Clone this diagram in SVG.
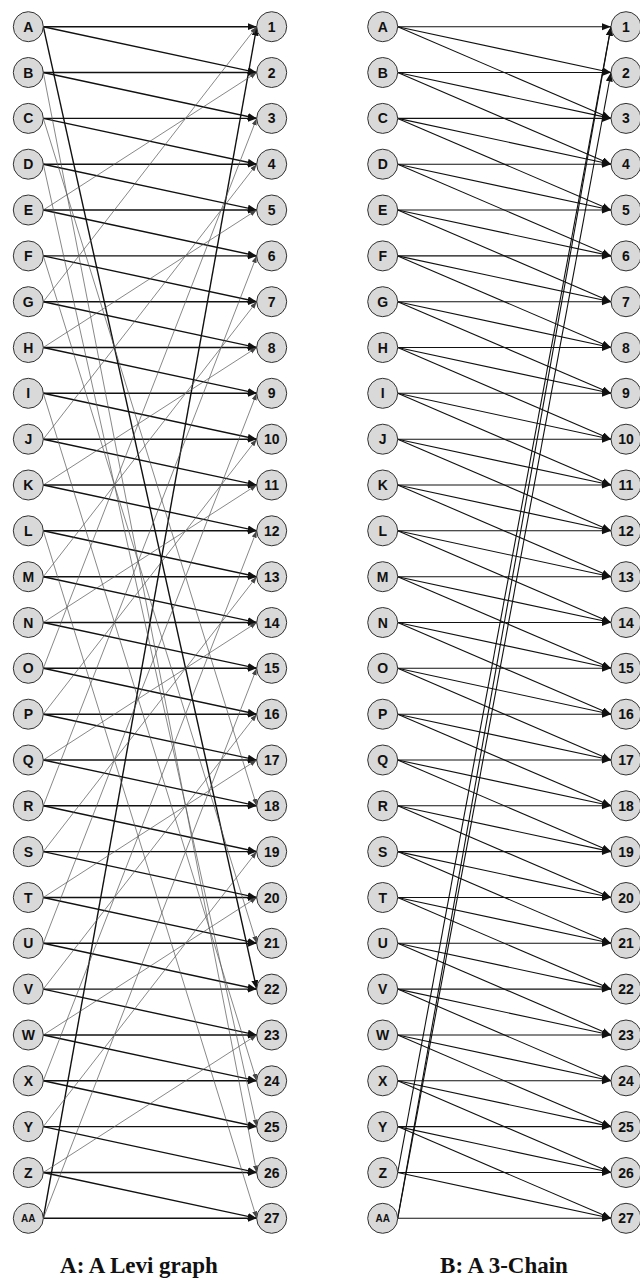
<svg xmlns="http://www.w3.org/2000/svg" width="640" height="1280" viewBox="0 0 640 1280">
<style>
.node circle{fill:#d9d9d9;stroke:#333;stroke-width:1}
.node text{font-family:"Liberation Sans",Arial,sans-serif;font-weight:bold;font-size:14px;text-anchor:middle;fill:#111}
.node text.sm{font-size:10px}
.thick{stroke:#111;stroke-width:1.4;marker-end:url(#ah)}
.thin{stroke:#555;stroke-width:0.7;marker-end:url(#aht)}
.bl{stroke:#111;stroke-width:1.1;marker-end:url(#ah)}
.cap{font-family:"Liberation Serif","Times New Roman",serif;font-weight:bold;font-size:23px;text-anchor:middle;fill:#111}
</style>
<defs>
<marker id="ah" markerWidth="10" markerHeight="8" refX="9" refY="3.5" orient="auto" markerUnits="userSpaceOnUse"><path d="M0,0 L9,3.5 L0,7 z" fill="#111"/></marker>
<marker id="aht" markerWidth="8" markerHeight="6" refX="7" refY="2.5" orient="auto" markerUnits="userSpaceOnUse"><path d="M0,0 L7,2.5 L0,5 z" fill="#444"/></marker>
</defs>
<rect width="640" height="1280" fill="#fff"/>
<g id="edges-a">
<line class="thick" x1="43.3" y1="26.7" x2="256.7" y2="26.7"/><line class="thick" x1="43.3" y1="26.7" x2="256.7" y2="72.5"/>
<line class="thick" x1="43.3" y1="72.5" x2="256.7" y2="72.5"/><line class="thick" x1="43.3" y1="72.5" x2="256.7" y2="118.4"/>
<line class="thick" x1="43.3" y1="118.4" x2="256.7" y2="118.4"/><line class="thick" x1="43.3" y1="118.4" x2="256.7" y2="164.2"/>
<line class="thick" x1="43.3" y1="164.2" x2="256.7" y2="164.2"/><line class="thick" x1="43.3" y1="164.2" x2="256.7" y2="210"/>
<line class="thick" x1="43.3" y1="210" x2="256.7" y2="210"/><line class="thick" x1="43.3" y1="210" x2="256.7" y2="255.9"/>
<line class="thick" x1="43.3" y1="255.9" x2="256.7" y2="255.9"/><line class="thick" x1="43.3" y1="255.9" x2="256.7" y2="301.7"/>
<line class="thick" x1="43.3" y1="301.7" x2="256.7" y2="301.7"/><line class="thick" x1="43.3" y1="301.7" x2="256.7" y2="347.5"/>
<line class="thick" x1="43.3" y1="347.5" x2="256.7" y2="347.5"/><line class="thick" x1="43.3" y1="347.5" x2="256.7" y2="393.3"/>
<line class="thick" x1="43.3" y1="393.3" x2="256.7" y2="393.3"/><line class="thick" x1="43.3" y1="393.3" x2="256.7" y2="439.2"/>
<line class="thick" x1="43.3" y1="439.2" x2="256.7" y2="439.2"/><line class="thick" x1="43.3" y1="439.2" x2="256.7" y2="485"/>
<line class="thick" x1="43.3" y1="485" x2="256.7" y2="485"/><line class="thick" x1="43.3" y1="485" x2="256.7" y2="530.8"/>
<line class="thick" x1="43.3" y1="530.8" x2="256.7" y2="530.8"/><line class="thick" x1="43.3" y1="530.8" x2="256.7" y2="576.7"/>
<line class="thick" x1="43.3" y1="576.7" x2="256.7" y2="576.7"/><line class="thick" x1="43.3" y1="576.7" x2="256.7" y2="622.5"/>
<line class="thick" x1="43.3" y1="622.5" x2="256.7" y2="622.5"/><line class="thick" x1="43.3" y1="622.5" x2="256.7" y2="668.3"/>
<line class="thick" x1="43.3" y1="668.3" x2="256.7" y2="668.3"/><line class="thick" x1="43.3" y1="668.3" x2="256.7" y2="714.2"/>
<line class="thick" x1="43.3" y1="714.2" x2="256.7" y2="714.2"/><line class="thick" x1="43.3" y1="714.2" x2="256.7" y2="760"/>
<line class="thick" x1="43.3" y1="760" x2="256.7" y2="760"/><line class="thick" x1="43.3" y1="760" x2="256.7" y2="805.8"/>
<line class="thick" x1="43.3" y1="805.8" x2="256.7" y2="805.8"/><line class="thick" x1="43.3" y1="805.8" x2="256.7" y2="851.6"/>
<line class="thick" x1="43.3" y1="851.6" x2="256.7" y2="851.6"/><line class="thick" x1="43.3" y1="851.6" x2="256.7" y2="897.5"/>
<line class="thick" x1="43.3" y1="897.5" x2="256.7" y2="897.5"/><line class="thick" x1="43.3" y1="897.5" x2="256.7" y2="943.3"/>
<line class="thick" x1="43.3" y1="943.3" x2="256.7" y2="943.3"/><line class="thick" x1="43.3" y1="943.3" x2="256.7" y2="989.1"/>
<line class="thick" x1="43.3" y1="989.1" x2="256.7" y2="989.1"/><line class="thick" x1="43.3" y1="989.1" x2="256.7" y2="1035"/>
<line class="thick" x1="43.3" y1="1035" x2="256.7" y2="1035"/><line class="thick" x1="43.3" y1="1035" x2="256.7" y2="1080.8"/>
<line class="thick" x1="43.3" y1="1080.8" x2="256.7" y2="1080.8"/><line class="thick" x1="43.3" y1="1080.8" x2="256.7" y2="1126.6"/>
<line class="thick" x1="43.3" y1="1126.6" x2="256.7" y2="1126.6"/><line class="thick" x1="43.3" y1="1126.6" x2="256.7" y2="1172.5"/>
<line class="thick" x1="43.3" y1="1172.5" x2="256.7" y2="1172.5"/><line class="thick" x1="43.3" y1="1172.5" x2="256.7" y2="1218.3"/>
<line class="thick" x1="43.3" y1="1218.3" x2="256.7" y2="1218.3"/><line class="thick" x1="43.3" y1="1218.3" x2="256.7" y2="26.7"/>
<line class="thick" x1="43.3" y1="26.7" x2="256.7" y2="989.1"/>
<line class="thin" x1="43.3" y1="72.5" x2="256.7" y2="1172.5"/>
<line class="thin" x1="43.3" y1="118.4" x2="256.7" y2="805.8"/>
<line class="thin" x1="43.3" y1="164.2" x2="256.7" y2="1126.6"/>
<line class="thin" x1="43.3" y1="210" x2="256.7" y2="72.5"/>
<line class="thin" x1="43.3" y1="255.9" x2="256.7" y2="943.3"/>
<line class="thin" x1="43.3" y1="301.7" x2="256.7" y2="26.7"/>
<line class="thin" x1="43.3" y1="347.5" x2="256.7" y2="210"/>
<line class="thin" x1="43.3" y1="393.3" x2="256.7" y2="1080.8"/>
<line class="thin" x1="43.3" y1="439.2" x2="256.7" y2="164.2"/>
<line class="thin" x1="43.3" y1="485" x2="256.7" y2="347.5"/>
<line class="thin" x1="43.3" y1="530.8" x2="256.7" y2="1218.3"/>
<line class="thin" x1="43.3" y1="576.7" x2="256.7" y2="301.7"/>
<line class="thin" x1="43.3" y1="622.5" x2="256.7" y2="485"/>
<line class="thin" x1="43.3" y1="668.3" x2="256.7" y2="118.4"/>
<line class="thin" x1="43.3" y1="714.2" x2="256.7" y2="439.2"/>
<line class="thin" x1="43.3" y1="760" x2="256.7" y2="622.5"/>
<line class="thin" x1="43.3" y1="805.8" x2="256.7" y2="255.9"/>
<line class="thin" x1="43.3" y1="851.6" x2="256.7" y2="576.7"/>
<line class="thin" x1="43.3" y1="897.5" x2="256.7" y2="760"/>
<line class="thin" x1="43.3" y1="943.3" x2="256.7" y2="393.3"/>
<line class="thin" x1="43.3" y1="989.1" x2="256.7" y2="714.2"/>
<line class="thin" x1="43.3" y1="1035" x2="256.7" y2="897.5"/>
<line class="thin" x1="43.3" y1="1080.8" x2="256.7" y2="530.8"/>
<line class="thin" x1="43.3" y1="1126.6" x2="256.7" y2="851.6"/>
<line class="thin" x1="43.3" y1="1172.5" x2="256.7" y2="1035"/>
<line class="thin" x1="43.3" y1="1218.3" x2="256.7" y2="668.3"/>
</g>
<g id="edges-b">
<line class="bl" x1="397.7" y1="26.7" x2="611" y2="26.7"/><line class="bl" x1="397.7" y1="26.7" x2="611" y2="72.5"/><line class="bl" x1="397.7" y1="26.7" x2="611" y2="118.4"/>
<line class="bl" x1="397.7" y1="72.5" x2="611" y2="72.5"/><line class="bl" x1="397.7" y1="72.5" x2="611" y2="118.4"/><line class="bl" x1="397.7" y1="72.5" x2="611" y2="164.2"/>
<line class="bl" x1="397.7" y1="118.4" x2="611" y2="118.4"/><line class="bl" x1="397.7" y1="118.4" x2="611" y2="164.2"/><line class="bl" x1="397.7" y1="118.4" x2="611" y2="210"/>
<line class="bl" x1="397.7" y1="164.2" x2="611" y2="164.2"/><line class="bl" x1="397.7" y1="164.2" x2="611" y2="210"/><line class="bl" x1="397.7" y1="164.2" x2="611" y2="255.9"/>
<line class="bl" x1="397.7" y1="210" x2="611" y2="210"/><line class="bl" x1="397.7" y1="210" x2="611" y2="255.9"/><line class="bl" x1="397.7" y1="210" x2="611" y2="301.7"/>
<line class="bl" x1="397.7" y1="255.9" x2="611" y2="255.9"/><line class="bl" x1="397.7" y1="255.9" x2="611" y2="301.7"/><line class="bl" x1="397.7" y1="255.9" x2="611" y2="347.5"/>
<line class="bl" x1="397.7" y1="301.7" x2="611" y2="301.7"/><line class="bl" x1="397.7" y1="301.7" x2="611" y2="347.5"/><line class="bl" x1="397.7" y1="301.7" x2="611" y2="393.3"/>
<line class="bl" x1="397.7" y1="347.5" x2="611" y2="347.5"/><line class="bl" x1="397.7" y1="347.5" x2="611" y2="393.3"/><line class="bl" x1="397.7" y1="347.5" x2="611" y2="439.2"/>
<line class="bl" x1="397.7" y1="393.3" x2="611" y2="393.3"/><line class="bl" x1="397.7" y1="393.3" x2="611" y2="439.2"/><line class="bl" x1="397.7" y1="393.3" x2="611" y2="485"/>
<line class="bl" x1="397.7" y1="439.2" x2="611" y2="439.2"/><line class="bl" x1="397.7" y1="439.2" x2="611" y2="485"/><line class="bl" x1="397.7" y1="439.2" x2="611" y2="530.8"/>
<line class="bl" x1="397.7" y1="485" x2="611" y2="485"/><line class="bl" x1="397.7" y1="485" x2="611" y2="530.8"/><line class="bl" x1="397.7" y1="485" x2="611" y2="576.7"/>
<line class="bl" x1="397.7" y1="530.8" x2="611" y2="530.8"/><line class="bl" x1="397.7" y1="530.8" x2="611" y2="576.7"/><line class="bl" x1="397.7" y1="530.8" x2="611" y2="622.5"/>
<line class="bl" x1="397.7" y1="576.7" x2="611" y2="576.7"/><line class="bl" x1="397.7" y1="576.7" x2="611" y2="622.5"/><line class="bl" x1="397.7" y1="576.7" x2="611" y2="668.3"/>
<line class="bl" x1="397.7" y1="622.5" x2="611" y2="622.5"/><line class="bl" x1="397.7" y1="622.5" x2="611" y2="668.3"/><line class="bl" x1="397.7" y1="622.5" x2="611" y2="714.2"/>
<line class="bl" x1="397.7" y1="668.3" x2="611" y2="668.3"/><line class="bl" x1="397.7" y1="668.3" x2="611" y2="714.2"/><line class="bl" x1="397.7" y1="668.3" x2="611" y2="760"/>
<line class="bl" x1="397.7" y1="714.2" x2="611" y2="714.2"/><line class="bl" x1="397.7" y1="714.2" x2="611" y2="760"/><line class="bl" x1="397.7" y1="714.2" x2="611" y2="805.8"/>
<line class="bl" x1="397.7" y1="760" x2="611" y2="760"/><line class="bl" x1="397.7" y1="760" x2="611" y2="805.8"/><line class="bl" x1="397.7" y1="760" x2="611" y2="851.6"/>
<line class="bl" x1="397.7" y1="805.8" x2="611" y2="805.8"/><line class="bl" x1="397.7" y1="805.8" x2="611" y2="851.6"/><line class="bl" x1="397.7" y1="805.8" x2="611" y2="897.5"/>
<line class="bl" x1="397.7" y1="851.6" x2="611" y2="851.6"/><line class="bl" x1="397.7" y1="851.6" x2="611" y2="897.5"/><line class="bl" x1="397.7" y1="851.6" x2="611" y2="943.3"/>
<line class="bl" x1="397.7" y1="897.5" x2="611" y2="897.5"/><line class="bl" x1="397.7" y1="897.5" x2="611" y2="943.3"/><line class="bl" x1="397.7" y1="897.5" x2="611" y2="989.1"/>
<line class="bl" x1="397.7" y1="943.3" x2="611" y2="943.3"/><line class="bl" x1="397.7" y1="943.3" x2="611" y2="989.1"/><line class="bl" x1="397.7" y1="943.3" x2="611" y2="1035"/>
<line class="bl" x1="397.7" y1="989.1" x2="611" y2="989.1"/><line class="bl" x1="397.7" y1="989.1" x2="611" y2="1035"/><line class="bl" x1="397.7" y1="989.1" x2="611" y2="1080.8"/>
<line class="bl" x1="397.7" y1="1035" x2="611" y2="1035"/><line class="bl" x1="397.7" y1="1035" x2="611" y2="1080.8"/><line class="bl" x1="397.7" y1="1035" x2="611" y2="1126.6"/>
<line class="bl" x1="397.7" y1="1080.8" x2="611" y2="1080.8"/><line class="bl" x1="397.7" y1="1080.8" x2="611" y2="1126.6"/><line class="bl" x1="397.7" y1="1080.8" x2="611" y2="1172.5"/>
<line class="bl" x1="397.7" y1="1126.6" x2="611" y2="1126.6"/><line class="bl" x1="397.7" y1="1126.6" x2="611" y2="1172.5"/><line class="bl" x1="397.7" y1="1126.6" x2="611" y2="1218.3"/>
<line class="bl" x1="397.7" y1="1172.5" x2="611" y2="1172.5"/><line class="bl" x1="397.7" y1="1172.5" x2="611" y2="1218.3"/><line class="bl" x1="397.7" y1="1172.5" x2="611" y2="26.7"/>
<line class="bl" x1="397.7" y1="1218.3" x2="611" y2="1218.3"/><line class="bl" x1="397.7" y1="1218.3" x2="611" y2="26.7"/><line class="bl" x1="397.7" y1="1218.3" x2="611" y2="72.5"/>
</g>
<g id="nodes-a-left">
<g id="a-A" class="node"><circle cx="28.3" cy="26.7" r="15"/><text x="28.3" y="31.7">A</text></g>
<g id="a-B" class="node"><circle cx="28.3" cy="72.5" r="15"/><text x="28.3" y="77.5">B</text></g>
<g id="a-C" class="node"><circle cx="28.3" cy="118.4" r="15"/><text x="28.3" y="123.4">C</text></g>
<g id="a-D" class="node"><circle cx="28.3" cy="164.2" r="15"/><text x="28.3" y="169.2">D</text></g>
<g id="a-E" class="node"><circle cx="28.3" cy="210" r="15"/><text x="28.3" y="215">E</text></g>
<g id="a-F" class="node"><circle cx="28.3" cy="255.9" r="15"/><text x="28.3" y="260.9">F</text></g>
<g id="a-G" class="node"><circle cx="28.3" cy="301.7" r="15"/><text x="28.3" y="306.7">G</text></g>
<g id="a-H" class="node"><circle cx="28.3" cy="347.5" r="15"/><text x="28.3" y="352.5">H</text></g>
<g id="a-I" class="node"><circle cx="28.3" cy="393.3" r="15"/><text x="28.3" y="398.3">I</text></g>
<g id="a-J" class="node"><circle cx="28.3" cy="439.2" r="15"/><text x="28.3" y="444.2">J</text></g>
<g id="a-K" class="node"><circle cx="28.3" cy="485" r="15"/><text x="28.3" y="490">K</text></g>
<g id="a-L" class="node"><circle cx="28.3" cy="530.8" r="15"/><text x="28.3" y="535.8">L</text></g>
<g id="a-M" class="node"><circle cx="28.3" cy="576.7" r="15"/><text x="28.3" y="581.7">M</text></g>
<g id="a-N" class="node"><circle cx="28.3" cy="622.5" r="15"/><text x="28.3" y="627.5">N</text></g>
<g id="a-O" class="node"><circle cx="28.3" cy="668.3" r="15"/><text x="28.3" y="673.3">O</text></g>
<g id="a-P" class="node"><circle cx="28.3" cy="714.2" r="15"/><text x="28.3" y="719.2">P</text></g>
<g id="a-Q" class="node"><circle cx="28.3" cy="760" r="15"/><text x="28.3" y="765">Q</text></g>
<g id="a-R" class="node"><circle cx="28.3" cy="805.8" r="15"/><text x="28.3" y="810.8">R</text></g>
<g id="a-S" class="node"><circle cx="28.3" cy="851.6" r="15"/><text x="28.3" y="856.6">S</text></g>
<g id="a-T" class="node"><circle cx="28.3" cy="897.5" r="15"/><text x="28.3" y="902.5">T</text></g>
<g id="a-U" class="node"><circle cx="28.3" cy="943.3" r="15"/><text x="28.3" y="948.3">U</text></g>
<g id="a-V" class="node"><circle cx="28.3" cy="989.1" r="15"/><text x="28.3" y="994.1">V</text></g>
<g id="a-W" class="node"><circle cx="28.3" cy="1035" r="15"/><text x="28.3" y="1040">W</text></g>
<g id="a-X" class="node"><circle cx="28.3" cy="1080.8" r="15"/><text x="28.3" y="1085.8">X</text></g>
<g id="a-Y" class="node"><circle cx="28.3" cy="1126.6" r="15"/><text x="28.3" y="1131.6">Y</text></g>
<g id="a-Z" class="node"><circle cx="28.3" cy="1172.5" r="15"/><text x="28.3" y="1177.5">Z</text></g>
<g id="a-AA" class="node"><circle cx="28.3" cy="1218.3" r="15"/><text class="sm" x="28.3" y="1221.9">AA</text></g>
</g>
<g id="nodes-a-right">
<g id="a-1" class="node"><circle cx="271.7" cy="26.7" r="15"/><text x="271.7" y="31.7">1</text></g>
<g id="a-2" class="node"><circle cx="271.7" cy="72.5" r="15"/><text x="271.7" y="77.5">2</text></g>
<g id="a-3" class="node"><circle cx="271.7" cy="118.4" r="15"/><text x="271.7" y="123.4">3</text></g>
<g id="a-4" class="node"><circle cx="271.7" cy="164.2" r="15"/><text x="271.7" y="169.2">4</text></g>
<g id="a-5" class="node"><circle cx="271.7" cy="210" r="15"/><text x="271.7" y="215">5</text></g>
<g id="a-6" class="node"><circle cx="271.7" cy="255.9" r="15"/><text x="271.7" y="260.9">6</text></g>
<g id="a-7" class="node"><circle cx="271.7" cy="301.7" r="15"/><text x="271.7" y="306.7">7</text></g>
<g id="a-8" class="node"><circle cx="271.7" cy="347.5" r="15"/><text x="271.7" y="352.5">8</text></g>
<g id="a-9" class="node"><circle cx="271.7" cy="393.3" r="15"/><text x="271.7" y="398.3">9</text></g>
<g id="a-10" class="node"><circle cx="271.7" cy="439.2" r="15"/><text x="271.7" y="444.2">10</text></g>
<g id="a-11" class="node"><circle cx="271.7" cy="485" r="15"/><text x="271.7" y="490">11</text></g>
<g id="a-12" class="node"><circle cx="271.7" cy="530.8" r="15"/><text x="271.7" y="535.8">12</text></g>
<g id="a-13" class="node"><circle cx="271.7" cy="576.7" r="15"/><text x="271.7" y="581.7">13</text></g>
<g id="a-14" class="node"><circle cx="271.7" cy="622.5" r="15"/><text x="271.7" y="627.5">14</text></g>
<g id="a-15" class="node"><circle cx="271.7" cy="668.3" r="15"/><text x="271.7" y="673.3">15</text></g>
<g id="a-16" class="node"><circle cx="271.7" cy="714.2" r="15"/><text x="271.7" y="719.2">16</text></g>
<g id="a-17" class="node"><circle cx="271.7" cy="760" r="15"/><text x="271.7" y="765">17</text></g>
<g id="a-18" class="node"><circle cx="271.7" cy="805.8" r="15"/><text x="271.7" y="810.8">18</text></g>
<g id="a-19" class="node"><circle cx="271.7" cy="851.6" r="15"/><text x="271.7" y="856.6">19</text></g>
<g id="a-20" class="node"><circle cx="271.7" cy="897.5" r="15"/><text x="271.7" y="902.5">20</text></g>
<g id="a-21" class="node"><circle cx="271.7" cy="943.3" r="15"/><text x="271.7" y="948.3">21</text></g>
<g id="a-22" class="node"><circle cx="271.7" cy="989.1" r="15"/><text x="271.7" y="994.1">22</text></g>
<g id="a-23" class="node"><circle cx="271.7" cy="1035" r="15"/><text x="271.7" y="1040">23</text></g>
<g id="a-24" class="node"><circle cx="271.7" cy="1080.8" r="15"/><text x="271.7" y="1085.8">24</text></g>
<g id="a-25" class="node"><circle cx="271.7" cy="1126.6" r="15"/><text x="271.7" y="1131.6">25</text></g>
<g id="a-26" class="node"><circle cx="271.7" cy="1172.5" r="15"/><text x="271.7" y="1177.5">26</text></g>
<g id="a-27" class="node"><circle cx="271.7" cy="1218.3" r="15"/><text x="271.7" y="1223.3">27</text></g>
</g>
<g id="nodes-b-left">
<g id="b-A" class="node"><circle cx="382.7" cy="26.7" r="15"/><text x="382.7" y="31.7">A</text></g>
<g id="b-B" class="node"><circle cx="382.7" cy="72.5" r="15"/><text x="382.7" y="77.5">B</text></g>
<g id="b-C" class="node"><circle cx="382.7" cy="118.4" r="15"/><text x="382.7" y="123.4">C</text></g>
<g id="b-D" class="node"><circle cx="382.7" cy="164.2" r="15"/><text x="382.7" y="169.2">D</text></g>
<g id="b-E" class="node"><circle cx="382.7" cy="210" r="15"/><text x="382.7" y="215">E</text></g>
<g id="b-F" class="node"><circle cx="382.7" cy="255.9" r="15"/><text x="382.7" y="260.9">F</text></g>
<g id="b-G" class="node"><circle cx="382.7" cy="301.7" r="15"/><text x="382.7" y="306.7">G</text></g>
<g id="b-H" class="node"><circle cx="382.7" cy="347.5" r="15"/><text x="382.7" y="352.5">H</text></g>
<g id="b-I" class="node"><circle cx="382.7" cy="393.3" r="15"/><text x="382.7" y="398.3">I</text></g>
<g id="b-J" class="node"><circle cx="382.7" cy="439.2" r="15"/><text x="382.7" y="444.2">J</text></g>
<g id="b-K" class="node"><circle cx="382.7" cy="485" r="15"/><text x="382.7" y="490">K</text></g>
<g id="b-L" class="node"><circle cx="382.7" cy="530.8" r="15"/><text x="382.7" y="535.8">L</text></g>
<g id="b-M" class="node"><circle cx="382.7" cy="576.7" r="15"/><text x="382.7" y="581.7">M</text></g>
<g id="b-N" class="node"><circle cx="382.7" cy="622.5" r="15"/><text x="382.7" y="627.5">N</text></g>
<g id="b-O" class="node"><circle cx="382.7" cy="668.3" r="15"/><text x="382.7" y="673.3">O</text></g>
<g id="b-P" class="node"><circle cx="382.7" cy="714.2" r="15"/><text x="382.7" y="719.2">P</text></g>
<g id="b-Q" class="node"><circle cx="382.7" cy="760" r="15"/><text x="382.7" y="765">Q</text></g>
<g id="b-R" class="node"><circle cx="382.7" cy="805.8" r="15"/><text x="382.7" y="810.8">R</text></g>
<g id="b-S" class="node"><circle cx="382.7" cy="851.6" r="15"/><text x="382.7" y="856.6">S</text></g>
<g id="b-T" class="node"><circle cx="382.7" cy="897.5" r="15"/><text x="382.7" y="902.5">T</text></g>
<g id="b-U" class="node"><circle cx="382.7" cy="943.3" r="15"/><text x="382.7" y="948.3">U</text></g>
<g id="b-V" class="node"><circle cx="382.7" cy="989.1" r="15"/><text x="382.7" y="994.1">V</text></g>
<g id="b-W" class="node"><circle cx="382.7" cy="1035" r="15"/><text x="382.7" y="1040">W</text></g>
<g id="b-X" class="node"><circle cx="382.7" cy="1080.8" r="15"/><text x="382.7" y="1085.8">X</text></g>
<g id="b-Y" class="node"><circle cx="382.7" cy="1126.6" r="15"/><text x="382.7" y="1131.6">Y</text></g>
<g id="b-Z" class="node"><circle cx="382.7" cy="1172.5" r="15"/><text x="382.7" y="1177.5">Z</text></g>
<g id="b-AA" class="node"><circle cx="382.7" cy="1218.3" r="15"/><text class="sm" x="382.7" y="1221.9">AA</text></g>
</g>
<g id="nodes-b-right">
<g id="b-1" class="node"><circle cx="626" cy="26.7" r="15"/><text x="626" y="31.7">1</text></g>
<g id="b-2" class="node"><circle cx="626" cy="72.5" r="15"/><text x="626" y="77.5">2</text></g>
<g id="b-3" class="node"><circle cx="626" cy="118.4" r="15"/><text x="626" y="123.4">3</text></g>
<g id="b-4" class="node"><circle cx="626" cy="164.2" r="15"/><text x="626" y="169.2">4</text></g>
<g id="b-5" class="node"><circle cx="626" cy="210" r="15"/><text x="626" y="215">5</text></g>
<g id="b-6" class="node"><circle cx="626" cy="255.9" r="15"/><text x="626" y="260.9">6</text></g>
<g id="b-7" class="node"><circle cx="626" cy="301.7" r="15"/><text x="626" y="306.7">7</text></g>
<g id="b-8" class="node"><circle cx="626" cy="347.5" r="15"/><text x="626" y="352.5">8</text></g>
<g id="b-9" class="node"><circle cx="626" cy="393.3" r="15"/><text x="626" y="398.3">9</text></g>
<g id="b-10" class="node"><circle cx="626" cy="439.2" r="15"/><text x="626" y="444.2">10</text></g>
<g id="b-11" class="node"><circle cx="626" cy="485" r="15"/><text x="626" y="490">11</text></g>
<g id="b-12" class="node"><circle cx="626" cy="530.8" r="15"/><text x="626" y="535.8">12</text></g>
<g id="b-13" class="node"><circle cx="626" cy="576.7" r="15"/><text x="626" y="581.7">13</text></g>
<g id="b-14" class="node"><circle cx="626" cy="622.5" r="15"/><text x="626" y="627.5">14</text></g>
<g id="b-15" class="node"><circle cx="626" cy="668.3" r="15"/><text x="626" y="673.3">15</text></g>
<g id="b-16" class="node"><circle cx="626" cy="714.2" r="15"/><text x="626" y="719.2">16</text></g>
<g id="b-17" class="node"><circle cx="626" cy="760" r="15"/><text x="626" y="765">17</text></g>
<g id="b-18" class="node"><circle cx="626" cy="805.8" r="15"/><text x="626" y="810.8">18</text></g>
<g id="b-19" class="node"><circle cx="626" cy="851.6" r="15"/><text x="626" y="856.6">19</text></g>
<g id="b-20" class="node"><circle cx="626" cy="897.5" r="15"/><text x="626" y="902.5">20</text></g>
<g id="b-21" class="node"><circle cx="626" cy="943.3" r="15"/><text x="626" y="948.3">21</text></g>
<g id="b-22" class="node"><circle cx="626" cy="989.1" r="15"/><text x="626" y="994.1">22</text></g>
<g id="b-23" class="node"><circle cx="626" cy="1035" r="15"/><text x="626" y="1040">23</text></g>
<g id="b-24" class="node"><circle cx="626" cy="1080.8" r="15"/><text x="626" y="1085.8">24</text></g>
<g id="b-25" class="node"><circle cx="626" cy="1126.6" r="15"/><text x="626" y="1131.6">25</text></g>
<g id="b-26" class="node"><circle cx="626" cy="1172.5" r="15"/><text x="626" y="1177.5">26</text></g>
<g id="b-27" class="node"><circle cx="626" cy="1218.3" r="15"/><text x="626" y="1223.3">27</text></g>
</g>
<g id="captions">
<text class="cap" x="139" y="1273">A: A Levi graph</text>
<text class="cap" x="504" y="1273">B: A 3-Chain</text>
</g>
</svg>
